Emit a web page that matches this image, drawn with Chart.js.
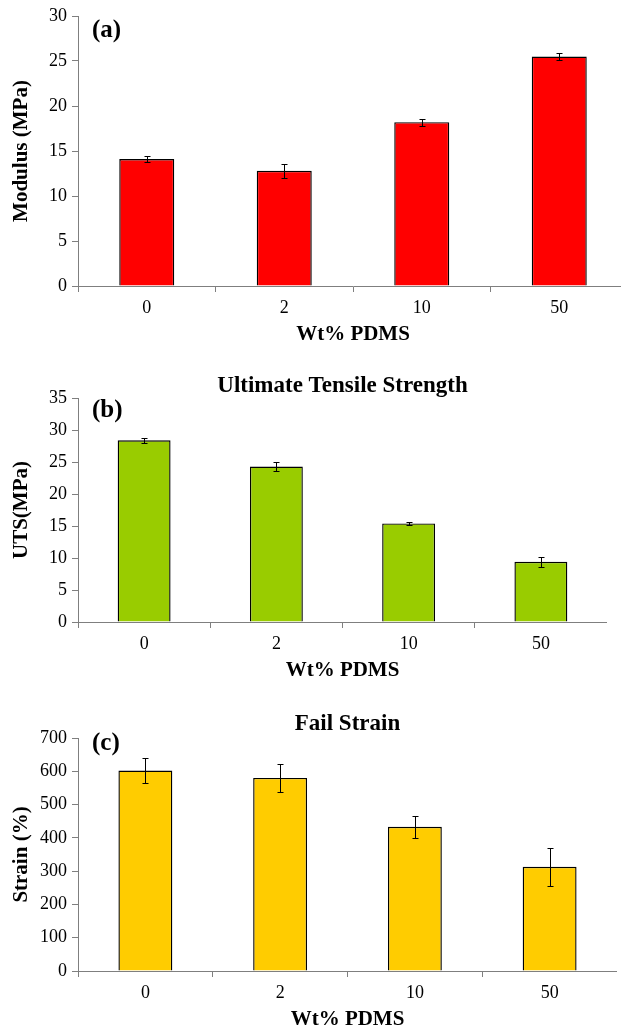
<!DOCTYPE html>
<html lang="en">
  <head>
    <script src="https://cdn.jsdelivr.net/npm/chart.js"></script>
    <style>
      html, body { margin: 0; padding: 0; background: #fff; overflow: hidden; width: 621px; height: 1028px; }
      .panel { position: absolute; left: 0; }
    </style>
  </head>
  <body>
    <div class="panel" style="top: 0px; width: 628px; height: 350px"><canvas id="chartA"></canvas></div>
    <div class="panel" style="top: 350px; width: 607px; height: 336px"><canvas id="chartB"></canvas></div>
    <div class="panel" style="top: 686px; width: 617px; height: 349px"><canvas id="chartC"></canvas></div>
    <script type="text/javascript">
      // data
      const pdms = ['0', '2', '10', '50'];
      const modulus = [14.1, 12.8, 18.2, 25.5];
      const modulusErr = [0.3, 0.8, 0.4, 0.4];
      const uts = [28.4, 24.3, 15.4, 9.4];
      const utsErr = [0.4, 0.7, 0.3, 0.8];
      const strain = [602, 580, 433, 313];
      const strainErr = [37, 42, 32, 57];

      const serif = '"Liberation Serif", "Times New Roman", serif';
      const axisGray = '#7f7f7f';

      // simple +/- error bars on top of each bar
      const errorBars = {
        id: 'errorBars',
        afterDatasetsDraw(chart) {
          const ctx = chart.ctx;
          const y = chart.scales.y;
          chart.data.datasets.forEach((ds, i) => {
            chart.getDatasetMeta(i).data.forEach((bar, j) => {
              const v = ds.data[j], e = ds.errors[j];
              const top = Math.round(y.getPixelForValue(v + e)) + 0.5;
              const bot = Math.round(y.getPixelForValue(v - e)) + 0.5;
              const x = Math.round(bar.x) + 0.5;
              ctx.save();
              ctx.strokeStyle = '#000';
              ctx.lineWidth = 1;
              ctx.beginPath();
              ctx.moveTo(x, top); ctx.lineTo(x, bot);
              ctx.moveTo(x - 3, top); ctx.lineTo(x + 3, top);
              ctx.moveTo(x - 3, bot); ctx.lineTo(x + 3, bot);
              ctx.stroke();
              ctx.restore();
            });
          });
        },
      };

      // (a) / (b) / (c) tag in the top-left corner of the plot
      const panelLabel = {
        id: 'panelLabel',
        afterDraw(chart, args, o) {
          const ctx = chart.ctx, a = chart.chartArea;
          ctx.save();
          ctx.font = 'bold 25px ' + serif;
          ctx.fillStyle = '#000';
          ctx.textBaseline = 'alphabetic';
          ctx.fillText(o.text, a.left + 14, a.top + o.dy);
          ctx.restore();
        },
      };

      function makeChart(id, o) {
        return new Chart(document.getElementById(id), {
          type: 'bar',
          data: {
            labels: pdms,
            datasets: [
              {
                data: o.values,
                errors: o.errors,
                backgroundColor: o.color,
                borderColor: '#000',
                borderWidth: 1.4,
                barPercentage: 0.4,
                categoryPercentage: 1.0,
              },
            ],
          },
          options: {
            responsive: true,
            maintainAspectRatio: false,
            animation: false,
            layout: { padding: { top: o.padTop, left: 0, right: 0, bottom: 0 } },
            plugins: {
              legend: { display: false },
              tooltip: { enabled: false },
              title: {
                display: !!o.title,
                text: o.title || '',
                fullSize: false,
                color: '#000',
                font: { family: serif, size: 23, weight: 'bold', lineHeight: 1.0 },
                padding: { top: o.titleTop || 0, bottom: o.titleBottom || 0 },
              },
              panelLabel: { text: o.panel, dy: o.panelDy },
            },
            scales: {
              x: {
                grid: { display: true, drawOnChartArea: false, drawTicks: true, tickLength: 6, color: axisGray, offset: true },
                border: { display: true, color: axisGray, width: 1 },
                ticks: { color: '#000', font: { family: serif, size: 18 }, padding: 5 },
                title: {
                  display: true,
                  text: 'Wt% PDMS',
                  color: '#000',
                  font: { family: serif, size: 21, weight: 'bold' },
                  padding: { top: 0, bottom: 3 },
                },
                afterFit(s) { s.height = 64; },
              },
              y: {
                min: 0,
                max: o.max,
                ticks: { stepSize: o.step, color: '#000', font: { family: serif, size: 18 }, padding: 5 },
                grid: { drawOnChartArea: false, drawTicks: true, tickLength: 6, color: axisGray },
                border: { display: true, color: axisGray, width: 1 },
                title: {
                  display: true,
                  text: o.yTitle,
                  color: '#000',
                  font: { family: serif, size: 21, weight: 'bold' },
                  padding: { top: 9, bottom: 0 },
                },
                afterFit(s) { s.width = 78; },
              },
            },
          },
          plugins: [errorBars, panelLabel],
        });
      }

      makeChart('chartA', {
        values: modulus, errors: modulusErr, color: '#ff0000',
        max: 30, step: 5, yTitle: 'Modulus (MPa)',
        panel: '(a)', panelDy: 21, padTop: 16,
      });
      makeChart('chartB', {
        values: uts, errors: utsErr, color: '#99cc00',
        max: 35, step: 5, yTitle: 'UTS(MPa)',
        title: 'Ultimate Tensile Strength', titleTop: 25, titleBottom: 0,
        panel: '(b)', panelDy: 19, padTop: 0,
      });
      makeChart('chartC', {
        values: strain, errors: strainErr, color: '#ffcc00',
        max: 700, step: 100, yTitle: 'Strain (%)',
        title: 'Fail Strain', titleTop: 27, titleBottom: 2,
        panel: '(c)', panelDy: 12, padTop: 0,
      });
    </script>
  </body>
</html>
